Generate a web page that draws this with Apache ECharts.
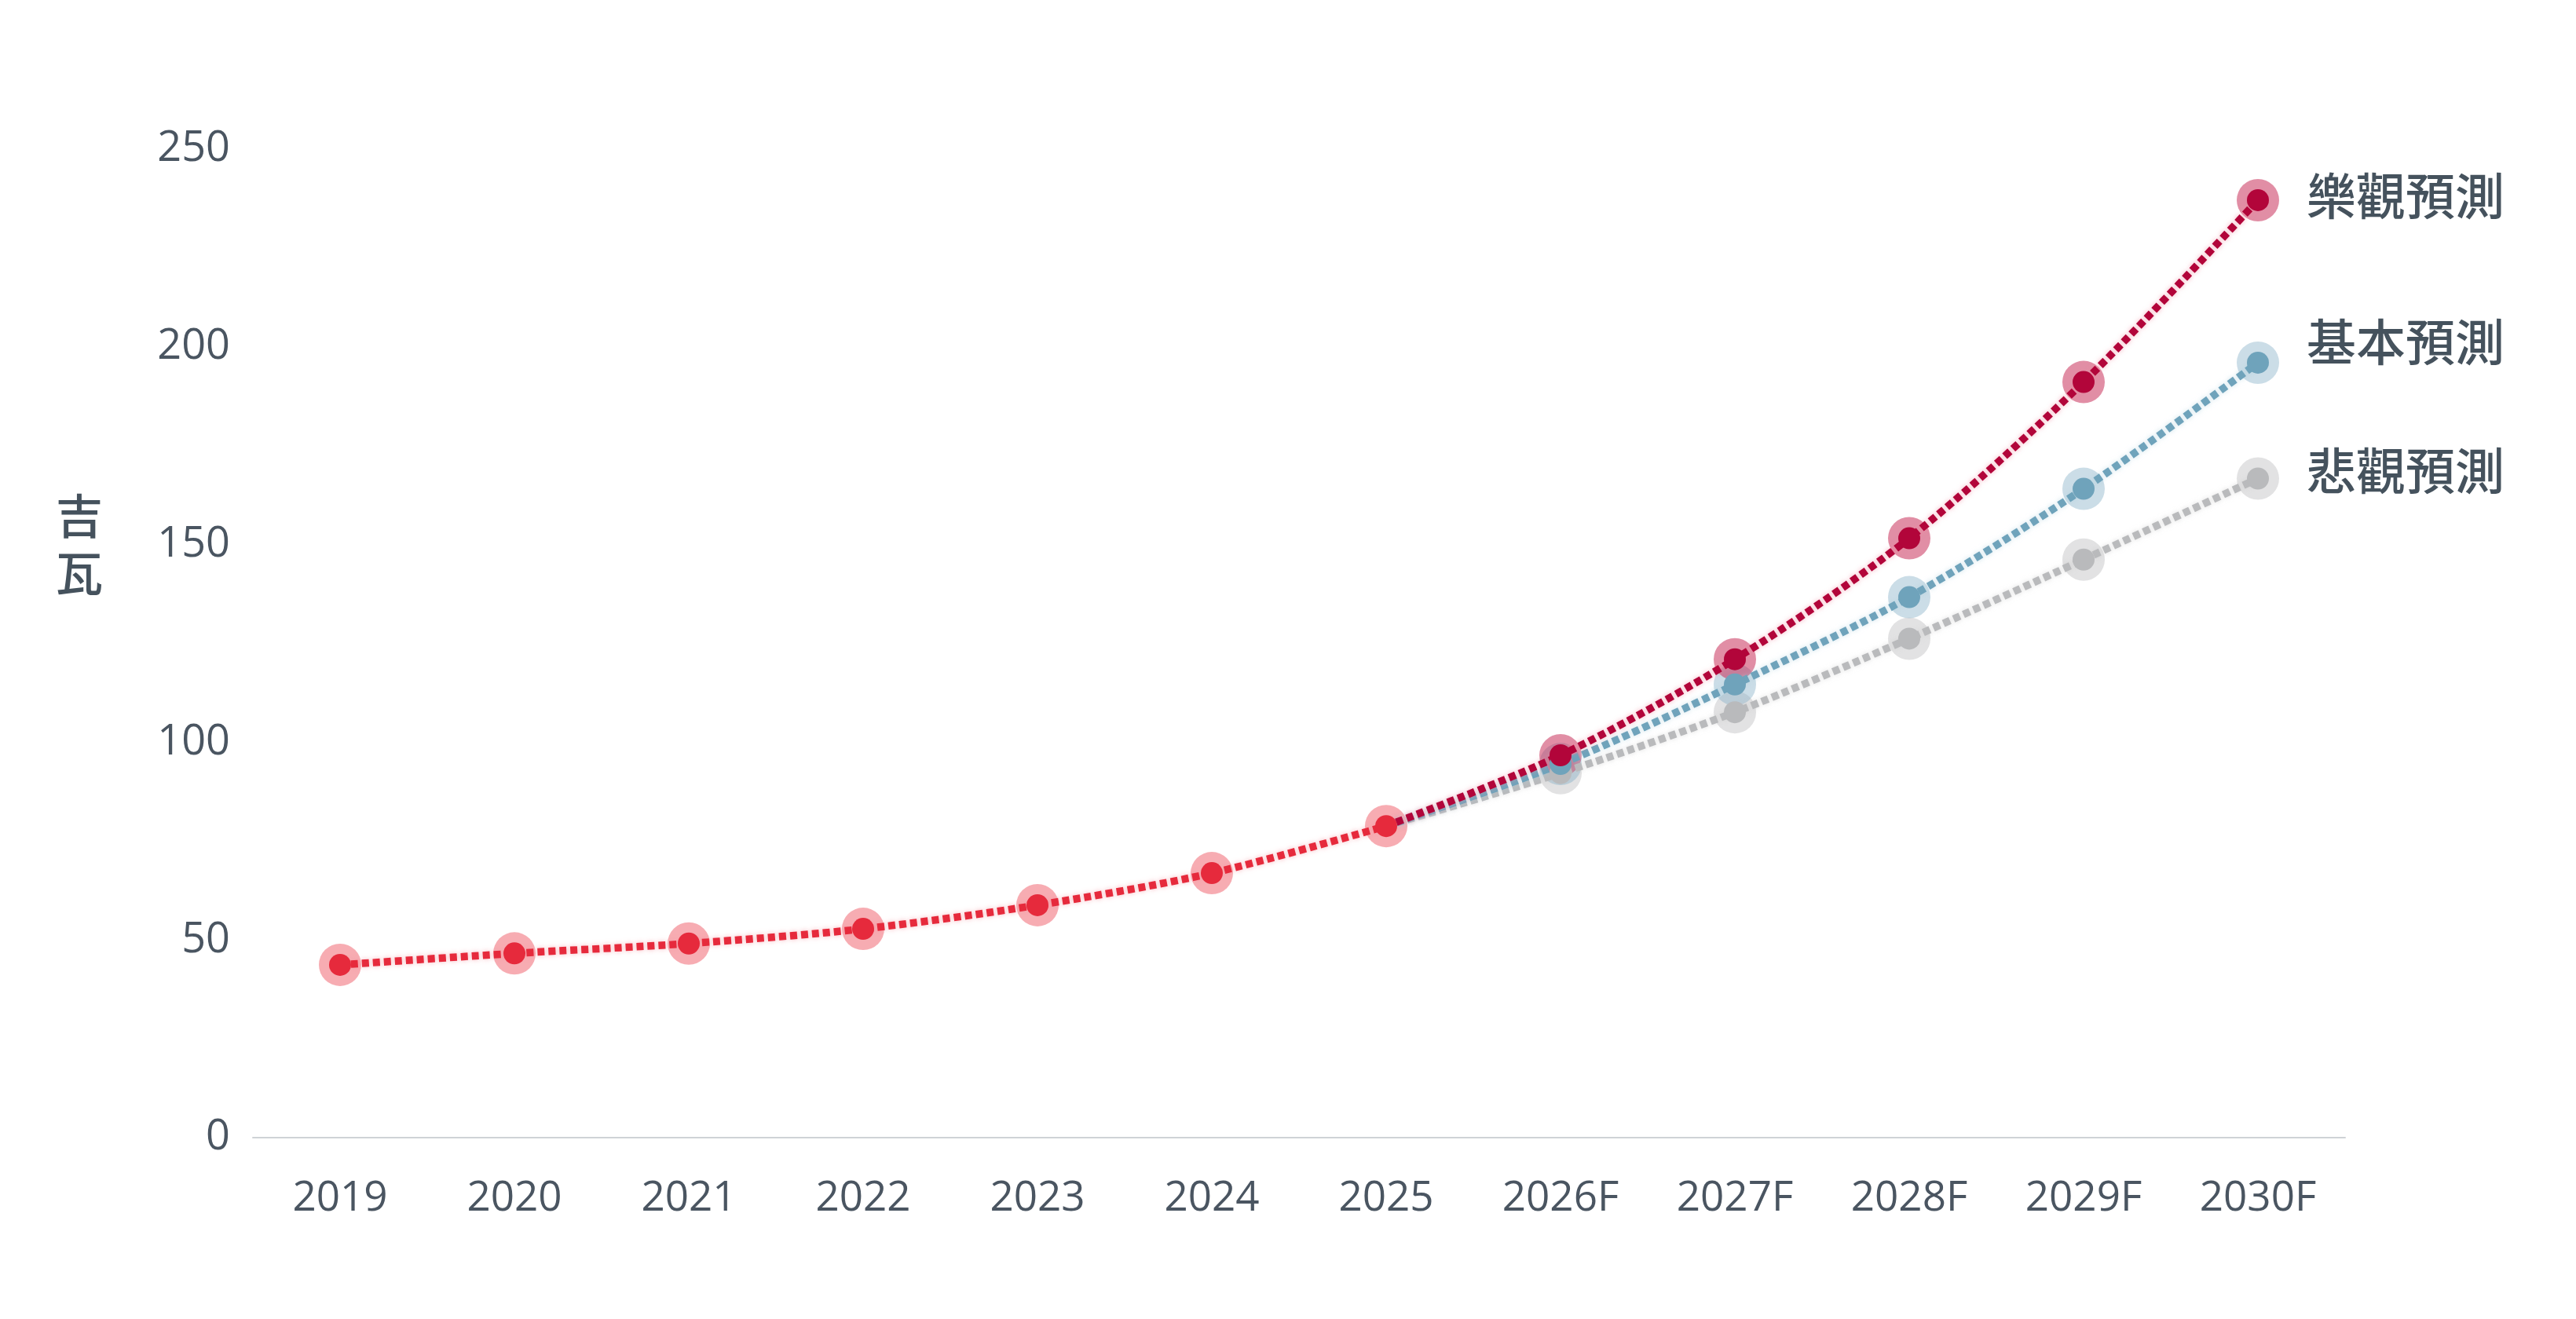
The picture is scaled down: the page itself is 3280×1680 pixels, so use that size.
<!DOCTYPE html>
<html>
<head>
<meta charset="utf-8">
<script src="https://cdn.jsdelivr.net/npm/echarts@6/dist/echarts.min.js"></script>
<style>
html,body{margin:0;padding:0;background:#fff;}
#chart{width:3280px;height:1680px;}
</style>
</head>
<body>
<div id="chart"></div>
<script>
var years = ['2019','2020','2021','2022','2023','2024','2025','2026F','2027F','2028F','2029F','2030F'];
var yTicks = [0, 50, 100, 150, 200, 250];
var historic = [43.7, 46.6, 49.1, 52.8, 58.8, 66.9, 78.8];
var optimistic = [96.7, 121.0, 151.6, 191.1, 237.1];
var baseCase = [94.5, 114.6, 136.7, 164.1, 196.0];
var pessimistic = [92.2, 107.6, 126.2, 146.2, 166.7];
var names = { opt: '樂觀預測', base: '基本預測', pess: '悲觀預測' };
var yName = '吉瓦';

function forecast(arr) {
  var out = [];
  for (var i = 0; i < historic.length - 1; i++) out.push(null);
  out.push({ value: historic[historic.length - 1], symbol: 'none' });
  return out.concat(arr);
}
function histData() {
  return historic.slice();
}

var FONT = '"Open Sans", "Noto Sans", sans-serif';
var CJK = '"Noto Sans CJK TC", "Noto Sans CJK SC", sans-serif';
var textColor = '#4a5561';

function halo(data, color) {
  return {
    type: 'line', data: data, smooth: 0.3, symbol: 'circle', symbolSize: 54,
    showSymbol: true, silent: true,
    lineStyle: { width: 0, opacity: 0 },
    itemStyle: { color: color },
    z: 2
  };
}
function main(name, data, color, glow, labelOffset) {
  var s = {
    name: name, type: 'line', data: data, smooth: 0.3, symbol: 'circle', symbolSize: 28,
    showSymbol: true,
    lineStyle: { width: 9.5, color: color, type: [9, 5], shadowColor: glow, shadowBlur: 6 },
    itemStyle: { color: color },
    z: 3
  };
  if (labelOffset) {
    s.endLabel = {
      show: true, formatter: name, distance: 62, offset: labelOffset,
      fontFamily: CJK, fontSize: 63, fontWeight: 500, color: '#45525d'
    };
  }
  return s;
}

var chart = echarts.init(document.getElementById('chart'), null, { renderer: 'canvas' });
chart.setOption({
  backgroundColor: '#ffffff',
  animation: false,
  grid: { left: 322, right: 294, top: 190, bottom: 231 },
  xAxis: {
    type: 'category', data: years, boundaryGap: true,
    axisLine: { show: true, lineStyle: { color: '#cfd3d6', width: 2 } },
    axisTick: { show: false },
    axisLabel: { color: textColor, fontFamily: FONT, fontSize: 53, margin: 51 }
  },
  yAxis: {
    type: 'value', min: yTicks[0], max: yTicks[yTicks.length - 1], interval: 50,
    axisLine: { show: false }, axisTick: { show: false },
    splitLine: { show: false },
    axisLabel: { color: textColor, fontFamily: FONT, fontSize: 54, margin: 29 }
  },
  graphic: [{
    type: 'text', x: 101, y: 694,
    style: { text: yName.split('').join('\n'), fontFamily: CJK, fontSize: 60, fontWeight: 500, lineHeight: 73,
      fill: '#45525d', align: 'center', verticalAlign: 'middle' }
  }],
  series: [
    halo(forecast(pessimistic), 'rgba(190,190,192,0.45)'),
    main(names.pess, forecast(pessimistic), '#b9babc', 'rgba(200,200,200,0.6)', [0, -10]),
    halo(forecast(baseCase), 'rgba(130,175,198,0.42)'),
    main(names.base, forecast(baseCase), '#6fa3bb', 'rgba(170,205,220,0.6)', [0, -27]),
    halo(forecast(optimistic), 'rgba(196,30,75,0.5)'),
    main(names.opt, forecast(optimistic), '#b2053a', 'rgba(240,140,160,0.7)', [0, -6]),
    halo(histData(), 'rgba(238,70,85,0.45)'),
    main('歷史', histData(), '#e62a3c', 'rgba(245,150,160,0.7)', null)
  ]
});
</script>
</body>
</html>
